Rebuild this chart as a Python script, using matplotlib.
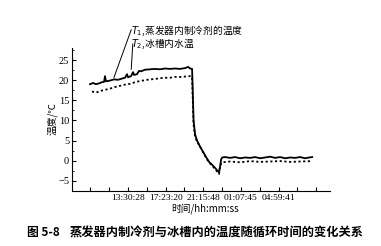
import matplotlib
matplotlib.use("Agg")
import matplotlib.pyplot as plt
from matplotlib.ticker import MultipleLocator

# hours counted from 13:30:28
t1_time = [-3.92, -3.61, -3.30, -2.99, -2.68, -2.47, -2.37, -2.27, -1.86, -1.44,
           -1.03, -0.62, -0.31, -0.10, 0.00, 0.31, 0.52, 0.62, 0.93, 1.13,
           1.34, 1.75, 2.27, 2.78, 3.30, 3.81, 4.33, 4.85, 5.36, 5.88,
           6.19, 6.39, 6.60, 6.75, 6.91, 7.11, 7.42, 7.73, 8.04, 8.35,
           8.66, 8.97, 9.18, 9.38, 9.48, 9.59, 9.69, 10.00, 10.52, 11.03,
           11.55, 12.06, 12.58, 13.09, 13.61, 14.12, 14.64, 15.15, 15.67, 16.19,
           16.70, 17.22, 17.73, 18.25, 18.66, 18.97]
t1_vals = [19.0, 19.3, 19.0, 19.2, 19.5, 19.6, 21.0, 19.7, 19.9, 20.2,
           20.1, 20.4, 20.6, 21.5, 20.7, 21.0, 22.0, 21.3, 21.5, 22.3,
           22.2, 22.6, 22.7, 22.8, 22.7, 22.9, 22.8, 22.9, 22.8, 23.0,
           23.3, 22.9, 22.8, 10.0, 6.5, 5.0, 3.5, 2.2, 0.9, -0.3,
           -1.0, -1.8, -2.4, -2.9, -1.5, 0.3, 0.8, 0.9, 0.7, 0.9,
           0.6, 0.8, 0.7, 0.9, 0.6, 0.8, 1.0, 0.7, 0.9, 0.6,
           0.8, 0.7, 0.9, 0.6, 0.8, 0.9]

t2_time = [-3.71, -3.30, -2.89, -2.37, -1.86, -1.34, -0.82, -0.31, 0.21, 0.72,
           1.24, 1.75, 2.27, 2.78, 3.30, 3.81, 4.33, 4.85, 5.36, 5.88,
           6.39, 6.60, 6.75, 6.91, 7.22, 7.53, 7.84, 8.14, 8.45, 8.76,
           9.07, 9.28, 9.38, 9.48, 9.69, 10.52, 11.55, 12.58, 13.61, 14.64,
           15.67, 16.70, 17.73, 18.97]
t2_vals = [17.2, 16.9, 17.3, 17.6, 17.9, 18.3, 18.6, 18.9, 19.1, 19.5,
           19.8, 20.0, 20.2, 20.3, 20.5, 20.6, 20.6, 20.8, 20.8, 20.9,
           21.0, 20.8, 9.0, 5.8, 4.3, 3.0, 1.6, 0.3, -0.7, -1.5,
           -2.4, -3.0, -3.3, -1.2, -0.4, -0.2, -0.4, -0.1, -0.3, -0.2,
           -0.1, -0.3, -0.2, -0.1]

tick_step = 1.939
tick_pos = [k * tick_step for k in range(-2, 11)]
tick_labels = ["", "", "13:30:28", "", "17:23:20", "", "21:15:48", "",
               "01:07:45", "", "04:59:41", "", ""]

cjk = ["Noto Sans CJK SC", "DejaVu Sans"]
serif = ["Liberation Serif", "Noto Sans CJK SC"]

fig = plt.figure(figsize=(3.81, 2.46), dpi=100)
ax = fig.add_axes([0.189, 0.224, 0.677, 0.581])

ax.plot(t1_time, t1_vals, color="black", lw=1.3)
ax.plot(t2_time, t2_vals, color="black", lw=1.3, linestyle=(0, (1.2, 1.4)))

ax.set_xlim(-5.77, 20.8)
ax.set_ylim(-7.5, 28)
ax.spines["top"].set_visible(False)
ax.spines["right"].set_visible(False)
ax.set_xticks(tick_pos)
ax.set_xticklabels(tick_labels, family=serif, fontsize=6.8)
ax.set_yticks([-5, 0, 5, 10, 15, 20, 25])
ax.yaxis.set_minor_locator(MultipleLocator(2.5))
for lab in ax.get_yticklabels():
    lab.set_family(serif)
    lab.set_fontsize(7.5)
ax.tick_params(direction="in", length=3, width=0.8, pad=2)
ax.tick_params(which="minor", direction="in", length=1.5, width=0.6)

fig.text(0.136, 0.52, "温度/℃", rotation=90, ha="center", va="center",
         family=cjk, fontsize=7)
fig.text(0.538, 0.154, "时间/hh:mm:ss", ha="center", va="center",
         family=cjk, fontsize=7)

fig.text(0.343, 0.874, "$T_1$,蒸发器内制冷剂的温度", ha="left", va="center",
         family=cjk, fontsize=7)
fig.text(0.343, 0.821, "$T_2$,冰槽内水温", ha="left", va="center",
         family=cjk, fontsize=7)
ax.annotate("", xy=(-1.55, 20.0), xycoords="data",
            xytext=(0.347, 0.89), textcoords="figure fraction",
            arrowprops=dict(arrowstyle="-", lw=0.7, color="black"))
ax.annotate("", xy=(0.31, 22.0), xycoords="data",
            xytext=(0.349, 0.833), textcoords="figure fraction",
            arrowprops=dict(arrowstyle="-", lw=0.7, color="black"))

fig.text(0.071, 0.053, "图 5-8", ha="left", va="center", family=cjk,
         fontsize=8.5, fontweight="bold")
fig.text(0.184, 0.053, "蒸发器内制冷剂与冰槽内的温度随循环时间的变化关系",
         ha="left", va="center", family=cjk, fontsize=8.8, fontweight="bold")

fig.savefig("out.png", dpi=100)
